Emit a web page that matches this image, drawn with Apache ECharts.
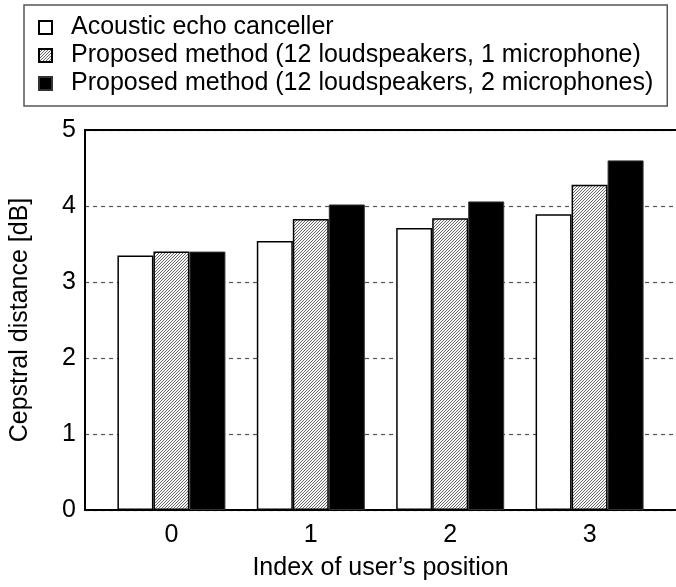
<!DOCTYPE html>
<html>
<head>
<meta charset="utf-8">
<script src="https://cdn.jsdelivr.net/npm/echarts@6/dist/echarts.min.js"></script>
<style>
  html, body { margin: 0; padding: 0; background: #fff; }
  #chart { width: 676px; height: 587px; }
</style>
</head>
<body>
<div id="chart"></div>
<script>
// User positions along the x axis
const positions = [0, 1, 2, 3];
// Cepstral distance [dB] for each method
const aecValues = [3.35, 3.54, 3.71, 3.89];
const oneMicValues = [3.40, 3.83, 3.84, 4.28];
const twoMicValues = [3.40, 4.02, 4.06, 4.60];
const seriesNames = [
  'Acoustic echo canceller',
  'Proposed method (12 loudspeakers, 1 microphone)',
  'Proposed method (12 loudspeakers, 2 microphones)'
];
const yTicks = [0, 1, 2, 3, 4, 5];

const FONT = '"Liberation Sans", Arial, Helvetica, sans-serif';

// fine diagonal hatching for the one-microphone bars
function hatchPattern() {
  const c = document.createElement('canvas');
  c.width = 6; c.height = 6;
  const ctx = c.getContext('2d');
  const img = ctx.createImageData(6, 6);
  for (let y = 0; y < 6; y++) {
    for (let x = 0; x < 6; x++) {
      const i = (y * 6 + x) * 4;
      const v = ((x + y) % 3 === 0) ? 0x6a : 0xf6;
      img.data[i] = v; img.data[i + 1] = v; img.data[i + 2] = v; img.data[i + 3] = 255;
    }
  }
  ctx.putImageData(img, 0, 0);
  return c;
}

const pairs = vals => positions.map((p, i) => [p, vals[i]]);

const chart = echarts.init(document.getElementById('chart'), null, { renderer: 'canvas' });

const barBase = {
  type: 'bar',
  barWidth: 36,
  barGap: '0%',
  animation: false
};

chart.setOption({
  backgroundColor: '#ffffff',
  textStyle: { fontFamily: FONT, color: '#000' },
  legend: {
    orient: 'vertical',
    left: 24,
    top: 5,
    width: 642,
    padding: [10, 14, 10, 14],
    borderColor: '#555',
    borderWidth: 1.5,
    borderRadius: 0,
    itemWidth: 13,
    itemHeight: 13,
    itemGap: 3,
    selectedMode: false,
    textStyle: {
      fontFamily: FONT,
      fontSize: 25,
      color: '#000',
      lineHeight: 25,
      padding: [0, 0, 0, 14]
    },
    data: seriesNames.map(n => ({ name: n, icon: 'rect' }))
  },
  grid: {
    left: 75,
    right: -7,
    top: 130,
    bottom: 77,
    containLabel: false
  },
  xAxis: [
    {
      type: 'value',
      min: -0.62,
      max: 3.62,
      position: 'bottom',
      name: 'Index of user\u2019s position',
      nameLocation: 'middle',
      nameGap: 46,
      nameTextStyle: { fontFamily: FONT, fontSize: 25, color: '#000' },
      axisLine: { show: true, onZero: false, lineStyle: { color: '#000', width: 2 } },
      axisTick: { show: false },
      splitLine: { show: false },
      axisLabel: {
        customValues: positions,
        fontFamily: FONT,
        fontSize: 25,
        color: '#000',
        margin: 13
      }
    },
    {
      type: 'value',
      min: -0.62,
      max: 3.62,
      position: 'top',
      axisLine: { show: true, onZero: false, lineStyle: { color: '#000', width: 2 } },
      axisTick: { show: false },
      axisLabel: { show: false },
      splitLine: { show: false }
    }
  ],
  yAxis: {
    type: 'value',
    min: 0,
    max: 5,
    interval: 1,
    position: 'left',
    name: 'Cepstral distance [dB]',
    nameLocation: 'middle',
    nameGap: 52,
    nameRotate: 90,
    nameTextStyle: { fontFamily: FONT, fontSize: 25, color: '#000' },
    axisLine: { show: true, onZero: false, lineStyle: { color: '#000', width: 2 } },
    axisTick: { show: false },
    axisLabel: {
      fontFamily: FONT,
      fontSize: 25,
      color: '#000',
      margin: 9,
      formatter: v => (yTicks.indexOf(v) >= 0 ? String(v) : '')
    },
    splitLine: {
      show: true,
      lineStyle: { color: '#555', width: 1.2, type: [4, 4] }
    }
  },
  series: [
    Object.assign({}, barBase, {
      name: seriesNames[0],
      data: pairs(aecValues),
      itemStyle: { color: '#ffffff', borderColor: '#000', borderWidth: 1.5 }
    }),
    Object.assign({}, barBase, {
      name: seriesNames[1],
      data: pairs(oneMicValues),
      itemStyle: {
        color: { image: hatchPattern(), repeat: 'repeat' },
        borderColor: '#000',
        borderWidth: 1.5
      }
    }),
    Object.assign({}, barBase, {
      name: seriesNames[2],
      data: pairs(twoMicValues),
      itemStyle: { color: '#000000', borderColor: '#333', borderWidth: 1 }
    })
  ]
});
</script>
</body>
</html>
